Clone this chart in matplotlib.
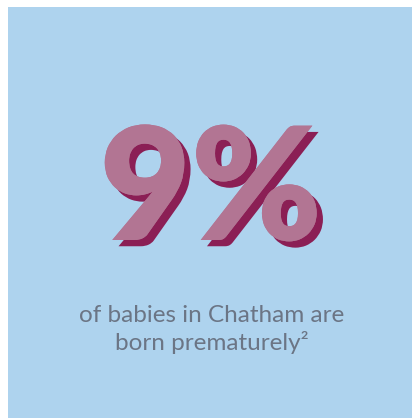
import matplotlib
matplotlib.use("Agg")
import matplotlib.pyplot as plt
import matplotlib.patheffects as pe
from matplotlib.patches import Rectangle

# contenido del panel
stat_value = "9%"
caption_lines = ["of babies in Chatham are", "born prematurely²"]

bg_color = "#AED3EE"
front_color = "#B27593"
shadow_color = "#8B1F55"
text_color = "#6B7585"

fig = plt.figure(figsize=(4.12, 4.18), dpi=100)
ax = fig.add_axes([0, 0, 1, 1])
ax.set_xlim(0, 412)
ax.set_ylim(418, 0)
ax.axis("off")

# fondo azul
ax.add_patch(Rectangle((8, 7), 404, 411, facecolor=bg_color, edgecolor="none"))

# numero grande con sombra
shadow = [pe.withSimplePatchShadow(offset=(4.5, -4.5), shadow_rgbFace=shadow_color, alpha=1.0),
          pe.Normal()]
ax.text(211, 240, stat_value, ha="center", va="baseline", fontsize=113,
        fontweight="heavy", family="Lato", color=front_color, path_effects=shadow)

# texto inferior
for i, line in enumerate(caption_lines):
    ax.text(212, 322 + i * 28, line, ha="center", va="baseline", fontsize=17.5,
            family="Lato", color=text_color)

fig.savefig("out.png", dpi=100)
